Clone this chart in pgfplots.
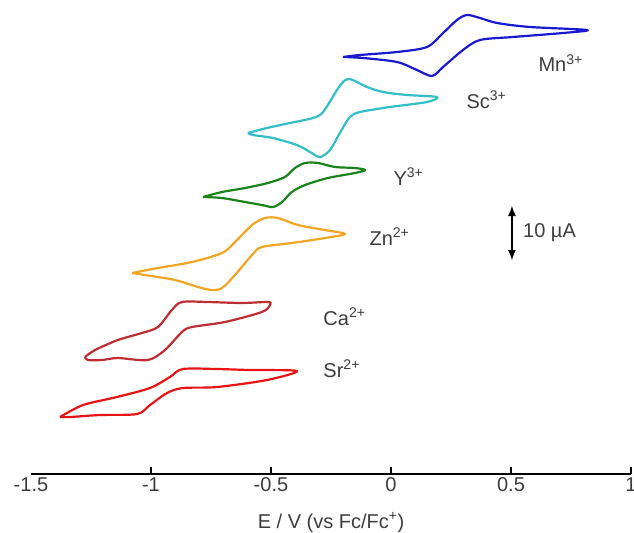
\documentclass[border=0pt]{standalone}
\usepackage{fontspec}
\setmainfont{Liberation Sans}
\usepackage{pgfplots}
\pgfplotsset{compat=1.18}
\usetikzlibrary{arrows.meta}
\definecolor{cMn}{RGB}{25,25,205}
\definecolor{cSc}{RGB}{50,190,200}
\definecolor{cY}{RGB}{25,130,25}
\definecolor{cZn}{RGB}{240,165,35}
\definecolor{cCa}{RGB}{190,45,50}
\definecolor{cSr}{RGB}{230,20,20}
\definecolor{txt}{RGB}{60,60,60}
\newcommand{\bigf}{\fontsize{20}{24}\selectfont}
\begin{document}
\begin{tikzpicture}
\begin{axis}[
  x=240pt, y=1pt,
  xmin=-1.5, xmax=1, ymin=0, ymax=474,
  axis x line=bottom, axis y line=none,
  x axis line style={-, line width=2.4pt},
  xtick={-1,-0.5,0,0.5,1},
  xticklabels={-1,-0.5,0,0.5,1},
  extra x ticks={-1.5}, extra x tick labels={-1.5},
  extra x tick style={major tick length=0pt},
  xtick align=inside, major tick length=7pt,
  tick style={line width=2pt, black},
  tick label style={font=\bigf, text=txt},
  xlabel={E / V (vs Fc/Fc\textsuperscript{+})},
  xlabel style={font=\bigf, text=txt, at={(axis description cs:0.5,0)}, anchor=base, yshift=-54pt},
  clip=false,
  every axis plot/.append style={line width=2.2pt, smooth, tension=0.5, no markers, line join=round},
]
% Mn3+
\addplot[cMn] coordinates {
(-0.200,417) (-0.129,419) (0.025,422) (0.150,427) (0.217,441) (0.275,454) (0.317,459)
(0.371,456) (0.442,451) (0.579,447) (0.817,444) (0.717,441) (0.508,437) (0.371,434)
(0.300,424) (0.217,407) (0.171,398) (0.108,404) (0.025,412) (-0.117,416) (-0.200,417)};
% Sc3+
\addplot[cSc] coordinates {
(-0.596,341) (-0.517,346) (-0.421,351) (-0.325,356) (-0.283,362) (-0.225,384) (-0.200,392)
(-0.171,395) (-0.100,387) (-0.033,382) (0.067,379) (0.192,377) (0.150,372) (-0.004,367)
(-0.129,362) (-0.171,357) (-0.213,341) (-0.254,324) (-0.296,317) (-0.337,322) (-0.392,329)
(-0.492,336) (-0.575,339) (-0.596,341)};
% Y3+
\addplot[cY] coordinates {
(-0.783,277) (-0.704,282) (-0.608,286) (-0.513,291) (-0.442,297) (-0.400,306) (-0.358,311)
(-0.304,311) (-0.233,307) (-0.150,306) (-0.108,304) (-0.150,301) (-0.263,296) (-0.358,289)
(-0.413,282) (-0.454,272) (-0.492,267) (-0.538,269) (-0.608,272) (-0.704,276) (-0.783,277)};
% Zn2+
\addplot[cZn] coordinates {
(-1.079,201) (-0.971,206) (-0.829,212) (-0.704,221) (-0.650,232) (-0.579,249) (-0.525,256)
(-0.471,256) (-0.388,249) (-0.275,244) (-0.192,240) (-0.275,236) (-0.413,231) (-0.538,227)
(-0.579,219) (-0.650,199) (-0.704,186) (-0.746,184) (-0.804,187) (-0.900,194) (-1.025,199)
(-1.079,201)};
% Ca2+
\addplot[cCa] coordinates {
(-1.275,117) (-1.233,124) (-1.138,134) (-1.038,141) (-0.971,147) (-0.913,164) (-0.871,172)
(-0.763,172) (-0.621,171) (-0.513,172) (-0.504,169) (-0.538,162) (-0.692,152) (-0.829,147)
(-0.871,142) (-0.942,124) (-1.013,114) (-1.138,116) (-1.204,114) (-1.263,114) (-1.275,117)};
% Sr2+
\addplot[cSr] coordinates {
(-1.379,57) (-1.283,69) (-1.142,77) (-1.004,86) (-0.921,97) (-0.867,105) (-0.725,105)
(-0.588,104) (-0.392,103) (-0.517,94) (-0.725,87) (-0.867,86) (-0.933,81) (-1.004,69)
(-1.058,60) (-1.213,59) (-1.338,57) (-1.379,57)};
% labels
\node[font=\bigf, text=txt, anchor=base west] at (axis cs:0.600,402) {Mn\textsuperscript{3+}};
\node[font=\bigf, text=txt, anchor=base west] at (axis cs:0.300,366) {Sc\textsuperscript{3+}};
\node[font=\bigf, text=txt, anchor=base west] at (axis cs:-0.004,289) {Y\textsuperscript{3+}};
\node[font=\bigf, text=txt, anchor=base west] at (axis cs:-0.104,229) {Zn\textsuperscript{2+}};
\node[font=\bigf, text=txt, anchor=base west] at (axis cs:-0.296,149) {Ca\textsuperscript{2+}};
\node[font=\bigf, text=txt, anchor=base west] at (axis cs:-0.296,97) {Sr\textsuperscript{2+}};
% scale bar
\draw[line width=2.6pt, black, {Latex[length=11pt,width=8pt]}-{Latex[length=11pt,width=8pt]}] (axis cs:0.504,213) -- (axis cs:0.504,269);
\node[font=\bigf, text=txt, anchor=west, inner sep=0pt] at (axis cs:0.550,241) {10 µA};
\coordinate (bbSW) at (axis cs:-1.629,-58);
\coordinate (bbNE) at (axis cs:1.0125,474);
\end{axis}
\pgfresetboundingbox
\path[use as bounding box] (bbSW) rectangle (bbNE);
\end{tikzpicture}
\end{document}
